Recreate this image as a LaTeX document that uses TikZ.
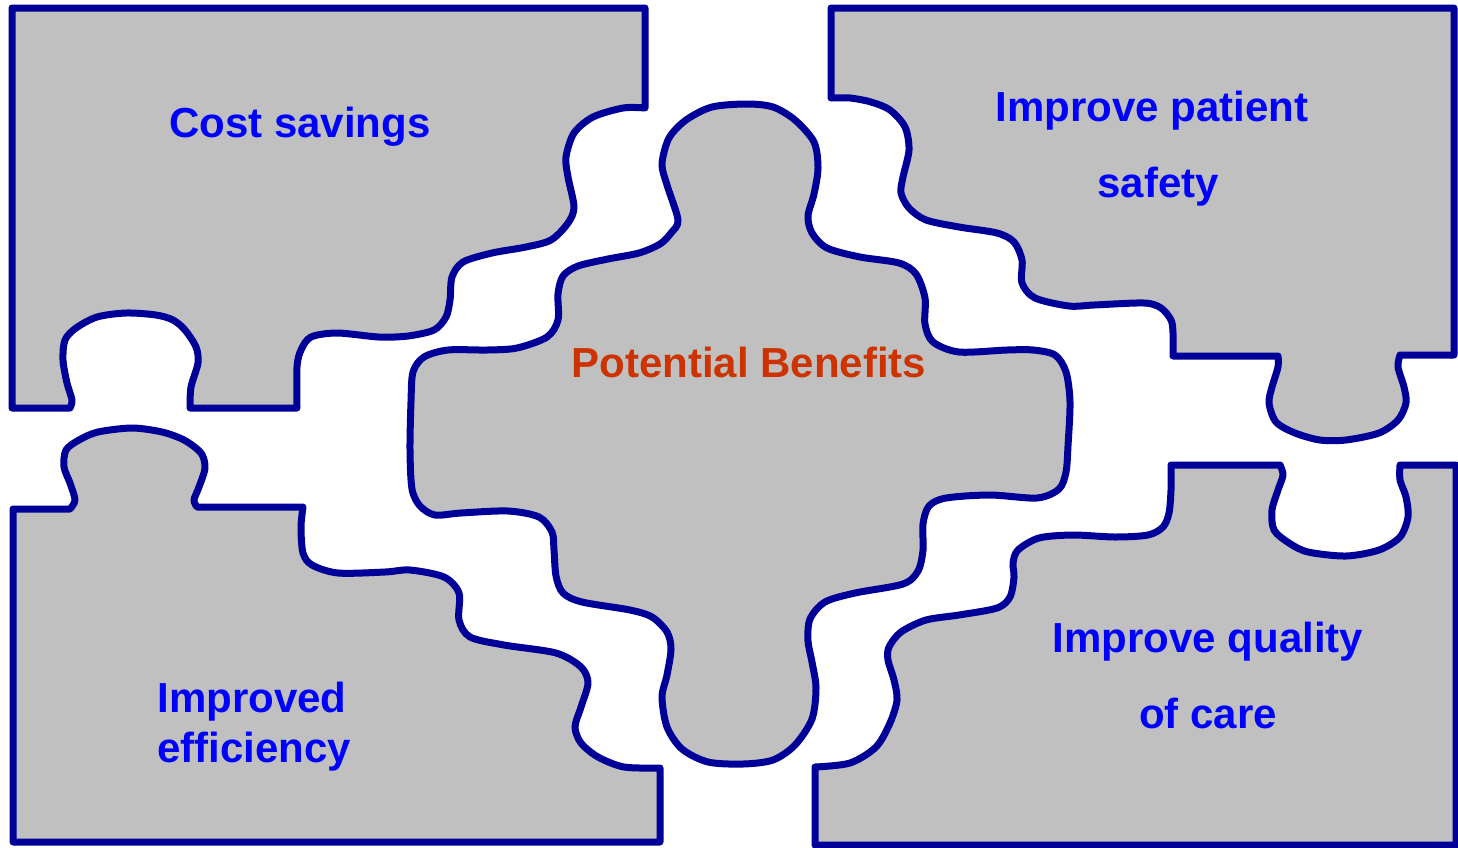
\documentclass[tikz,border=0pt]{standalone}
\usepackage{fontspec}
\setmainfont{Liberation Sans}
\definecolor{pgray}{RGB}{192,192,192}
\definecolor{pnavy}{RGB}{0,0,153}
\definecolor{tblue}{RGB}{0,0,255}
\definecolor{torange}{RGB}{204,51,0}
\tikzset{
  piece/.style={fill=pgray, draw=pnavy, line width=7pt, line join=round},
  lbl/.style={anchor=base, inner sep=0pt, text=tblue, font=\bfseries\fontsize{42}{50}\selectfont},
  clbl/.style={lbl, text=torange}
}
\begin{document}
\begin{tikzpicture}[x=1pt,y=-1pt]
\useasboundingbox (0,0) rectangle (1458,847);
% top-left piece
\path[piece] (12,8) -- (645,8) -- (645,108) -- plot[smooth] coordinates {(645,108) (623,108) (593,117) (574,133) (566,157) (568,177) (574,207) (568,223) (551,240) (526,247) (492,253) (463,262) (452,277) (450,300) (446,317) (434,330) (408,336) (379,337) (337,333) (311,337) (301,350) (297,367) (297,408)} -- (190,408) -- plot[smooth] coordinates {(190,408) (191,387) (198,363) (196,347) (185,330) (173,320) (156,315) (126,313) (97,317) (76,328) (65,340) (63,360) (67,383) (72,400) (70,408)} -- (12,408) -- cycle;
% bottom-left piece
\path[piece] (13,842) -- (13,509) -- (70,509) -- plot[smooth] coordinates {(70,509) (75,500) (70,483) (64,467) (66,450) (79,440) (98,432) (132,428) (162,432) (184,440) (201,453) (205,468) (199,487) (194,500) (197,507)} -- (303,507) -- plot[smooth] coordinates {(303,507) (301,527) (303,553) (312,565) (338,573) (385,572) (410,570) (444,577) (459,593) (459,620) (470,637) (504,645) (556,653) (581,667) (588,683) (581,707) (575,727) (581,743) (598,757) (624,767) (660,768)} -- (660,842) -- cycle;
% top-right piece
\path[piece] (831,8) -- (1454,8) -- (1454,355) -- (1400,355) -- plot[smooth] coordinates {(1400,355) (1398,367) (1404,387) (1406,403) (1398,420) (1379,433) (1346,440) (1320,440) (1295,433) (1276,422) (1269,403) (1272,387) (1278,367) (1278,356)} -- (1173,356) -- plot[smooth] coordinates {(1173,356) (1173,333) (1171,320) (1161,308) (1144,303) (1094,305) (1069,306) (1035,298) (1022,283) (1022,260) (1014,242) (997,233) (959,227) (926,220) (909,208) (901,193) (903,177) (909,150) (905,127) (890,110) (871,102) (850,98) (831,98)} -- cycle;
% bottom-right piece
\path[piece] (815,845) -- (815,767) -- plot[smooth] coordinates {(815,767) (850,763) (876,747) (890,723) (897,700) (894,680) (888,660) (889,647) (901,632) (926,620) (959,615) (997,608) (1010,597) (1014,577) (1013,563) (1018,550) (1039,538) (1073,535) (1115,537) (1148,535) (1163,527) (1169,513) (1171,490) (1171,465)} -- (1280,465) -- plot[smooth] coordinates {(1280,465) (1283,475) (1278,490) (1272,510) (1274,530) (1289,543) (1308,552) (1346,556) (1379,550) (1400,537) (1408,517) (1406,497) (1400,480) (1400,465)} -- (1456,465) -- (1456,845) -- cycle;
% central piece
\path[piece] plot[smooth cycle] coordinates {(678,220) (667,185) (662,164) (669,138) (686,120) (712,107) (747,104) (773,107) (795,120) (814,142) (818,168) (814,194) (808,216) (812,233) (827,248) (860,257) (899,263) (916,274) (925,298) (925,324) (933,342) (959,352) (1007,350) (1033,350) (1055,355) (1066,372) (1070,402) (1068,446) (1066,472) (1059,489) (1037,498) (990,495) (946,498) (929,506) (923,524) (923,550) (918,571) (903,584) (855,593) (825,602) (810,619) (808,641) (812,662) (816,688) (812,719) (795,745) (773,760) (743,764) (708,762) (682,749) (667,727) (662,697) (667,675) (671,649) (667,632) (652,617) (630,610) (582,602) (563,593) (556,576) (554,550) (552,532) (539,517) (508,511) (461,513) (435,515) (420,506) (412,489) (410,450) (411,402) (413,372) (424,357) (448,350) (487,350) (517,348) (547,337) (558,320) (558,294) (563,276) (578,266) (608,259) (639,253) (660,244) (671,233)};
% labels
\node[lbl] (cost) at (300,137) {Cost savings};
\node[clbl] (pot) at (749,377) {Potential Benefits};
\node[lbl] (ips1) at (1152,121) {Improve patient};
\node[lbl] (ips2) at (1158,197) {safety};
\node[lbl] (iqc1) at (1208,652) {Improve quality};
\node[lbl] (iqc2) at (1208,728) {of care};
\node[lbl] (ie1) at (252,712) {Improved};
\node[lbl] (ie2) at (254,762) {efficiency};
\end{tikzpicture}
\end{document}
